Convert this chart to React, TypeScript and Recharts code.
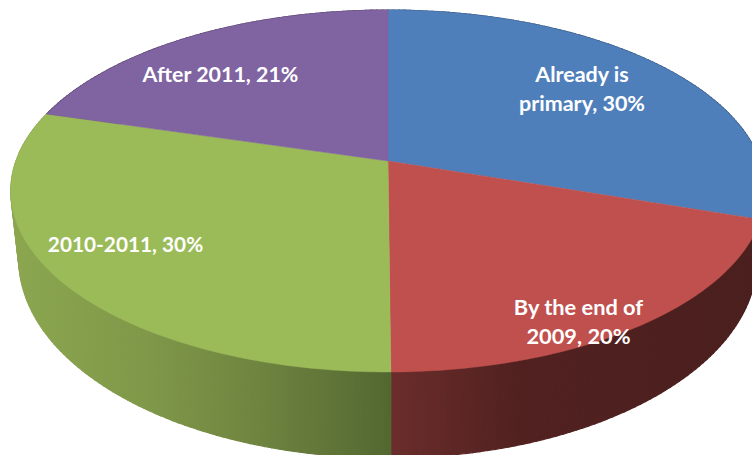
import { Pie, PieChart } from 'recharts';

const CATEGORIES = ['Already is primary', 'By the end of 2009', '2010-2011', 'After 2011'];
// unrounded shares read from the slice boundaries; the printed labels round them
const VALUES = [30.1, 19.8, 29.6, 20.5];
const LABEL_LINES = [['Already is', 'primary, 30%'], ['By the end of', '2009, 20%'], ['2010-2011, 30%'], ['After 2011, 21%']];

const TOP_COLORS = ['#4f7fbb', '#c0504d', '#9bbb59', '#8063a1'];
const WALL_FILLS = ['#2f4d72', 'url(#wallRed)', 'url(#wallGreen)', '#4d3b61'];

// label anchors, centre x and first baseline y
const LABEL_POS = [
  [582, 82],
  [578.5, 315],
  [125.5, 252],
  [220.5, 82],
];
const LABEL_SIZE = [21.5, 21.8, 20.8, 21.4];

const WIDTH = 752;
const HEIGHT = 455;
const CX = 388;
const CY = 161;
const RADIUS = 372;

// fake perspective of the tilted disc
const PERSPECTIVE = 0.1657;
const SQUASH = 0.4731;
const TOP_MID_Y = 191;
const BASE_MID_Y = 259;
const BASE_SCALE_X = 370 / 378;
const BASE_SCALE_Y = 199 / 181;

const rim = (angle: number, cx: number, cy: number, r: number) => {
  const a = ((90 - angle) * Math.PI) / 180;
  const u = Math.sin(a);
  const v = -Math.cos(a);
  const w = 1 - PERSPECTIVE * v;
  return [cx + (r * u) / w, cy + (r * SQUASH * v) / w];
};

const base = ([x, y]: number[], cx: number) => [
  cx + (x - cx) * BASE_SCALE_X,
  BASE_MID_Y + (y - TOP_MID_Y) * BASE_SCALE_Y,
];

const sweep = (start: number, end: number) => {
  const steps = Math.max(2, Math.ceil(Math.abs(end - start)));
  return Array.from({ length: steps + 1 }, (_, i) => start + ((end - start) * i) / steps);
};

const toPath = (points: number[][]) =>
  'M' + points.map(([x, y]) => `${x.toFixed(2)},${y.toFixed(2)}`).join('L') + 'Z';

function TopSlice(props: any) {
  const { cx, cy, outerRadius, startAngle, endAngle, index } = props;
  const arc = sweep(startAngle, endAngle).map((a) => rim(a, cx, cy, outerRadius));
  const fill = TOP_COLORS[index];
  return <path d={toPath([[cx, cy], ...arc])} fill={fill} stroke={fill} strokeWidth={0.5} />;
}

// the wall is swept quad by quad so its outline follows the rim at the widest point
function WallSlice(props: any) {
  const { cx, cy, outerRadius, startAngle, endAngle, index } = props;
  const arc = sweep(startAngle, endAngle).map((a) => rim(a, cx, cy, outerRadius));
  const fill = WALL_FILLS[index];
  return (
    <g>
      {arc.slice(1).map((p, i) => (
        <path
          key={i}
          d={toPath([arc[i], p, base(p, cx), base(arc[i], cx)])}
          fill={fill}
          stroke={fill}
          strokeWidth={1.2}
        />
      ))}
    </g>
  );
}

function SliceLabel(props: any) {
  const { index } = props;
  const [x, y] = LABEL_POS[index];
  return (
    <text
      x={x}
      y={y}
      textAnchor="middle"
      fill="#ffffff"
      fontFamily="Lato, sans-serif"
      fontWeight={700}
      fontSize={LABEL_SIZE[index]}
    >
      {LABEL_LINES[index].map((line, i) => (
        <tspan key={line} x={x} dy={i === 0 ? 0 : 29}>
          {line}
        </tspan>
      ))}
    </text>
  );
}

const data = CATEGORIES.map((name, i) => ({ name, value: VALUES[i] }));

export default function App() {
  return (
    <div style={{ position: 'absolute', left: 0, top: 0, width: WIDTH, height: HEIGHT, background: '#fff', overflow: 'hidden' }}>
      <PieChart width={WIDTH} height={HEIGHT} margin={{ top: 0, right: 0, bottom: 0, left: 0 }}>
        <defs>
          <linearGradient id="wallGreen" gradientUnits="userSpaceOnUse" x1={15} y1={0} x2={390} y2={0}>
            <stop offset="0%" stopColor="#8ba64f" />
            <stop offset="35%" stopColor="#7f9849" />
            <stop offset="65%" stopColor="#6f843f" />
            <stop offset="100%" stopColor="#536831" />
          </linearGradient>
          <linearGradient id="wallRed" gradientUnits="userSpaceOnUse" x1={390} y1={0} x2={752} y2={0}>
            <stop offset="0%" stopColor="#6b2d2b" />
            <stop offset="35%" stopColor="#512120" />
            <stop offset="100%" stopColor="#4a1f1e" />
          </linearGradient>
        </defs>
        <Pie
          data={data}
          dataKey="value"
          nameKey="name"
          cx={CX}
          cy={CY}
          innerRadius={0}
          outerRadius={RADIUS}
          startAngle={90}
          endAngle={-270}
          stroke="none"
          shape={WallSlice}
          isAnimationActive={false}
        />
        <Pie
          data={data}
          dataKey="value"
          nameKey="name"
          cx={CX}
          cy={CY}
          innerRadius={0}
          outerRadius={RADIUS}
          startAngle={90}
          endAngle={-270}
          stroke="none"
          shape={TopSlice}
          label={SliceLabel}
          labelLine={false}
          isAnimationActive={false}
        />
      </PieChart>
    </div>
  );
}
